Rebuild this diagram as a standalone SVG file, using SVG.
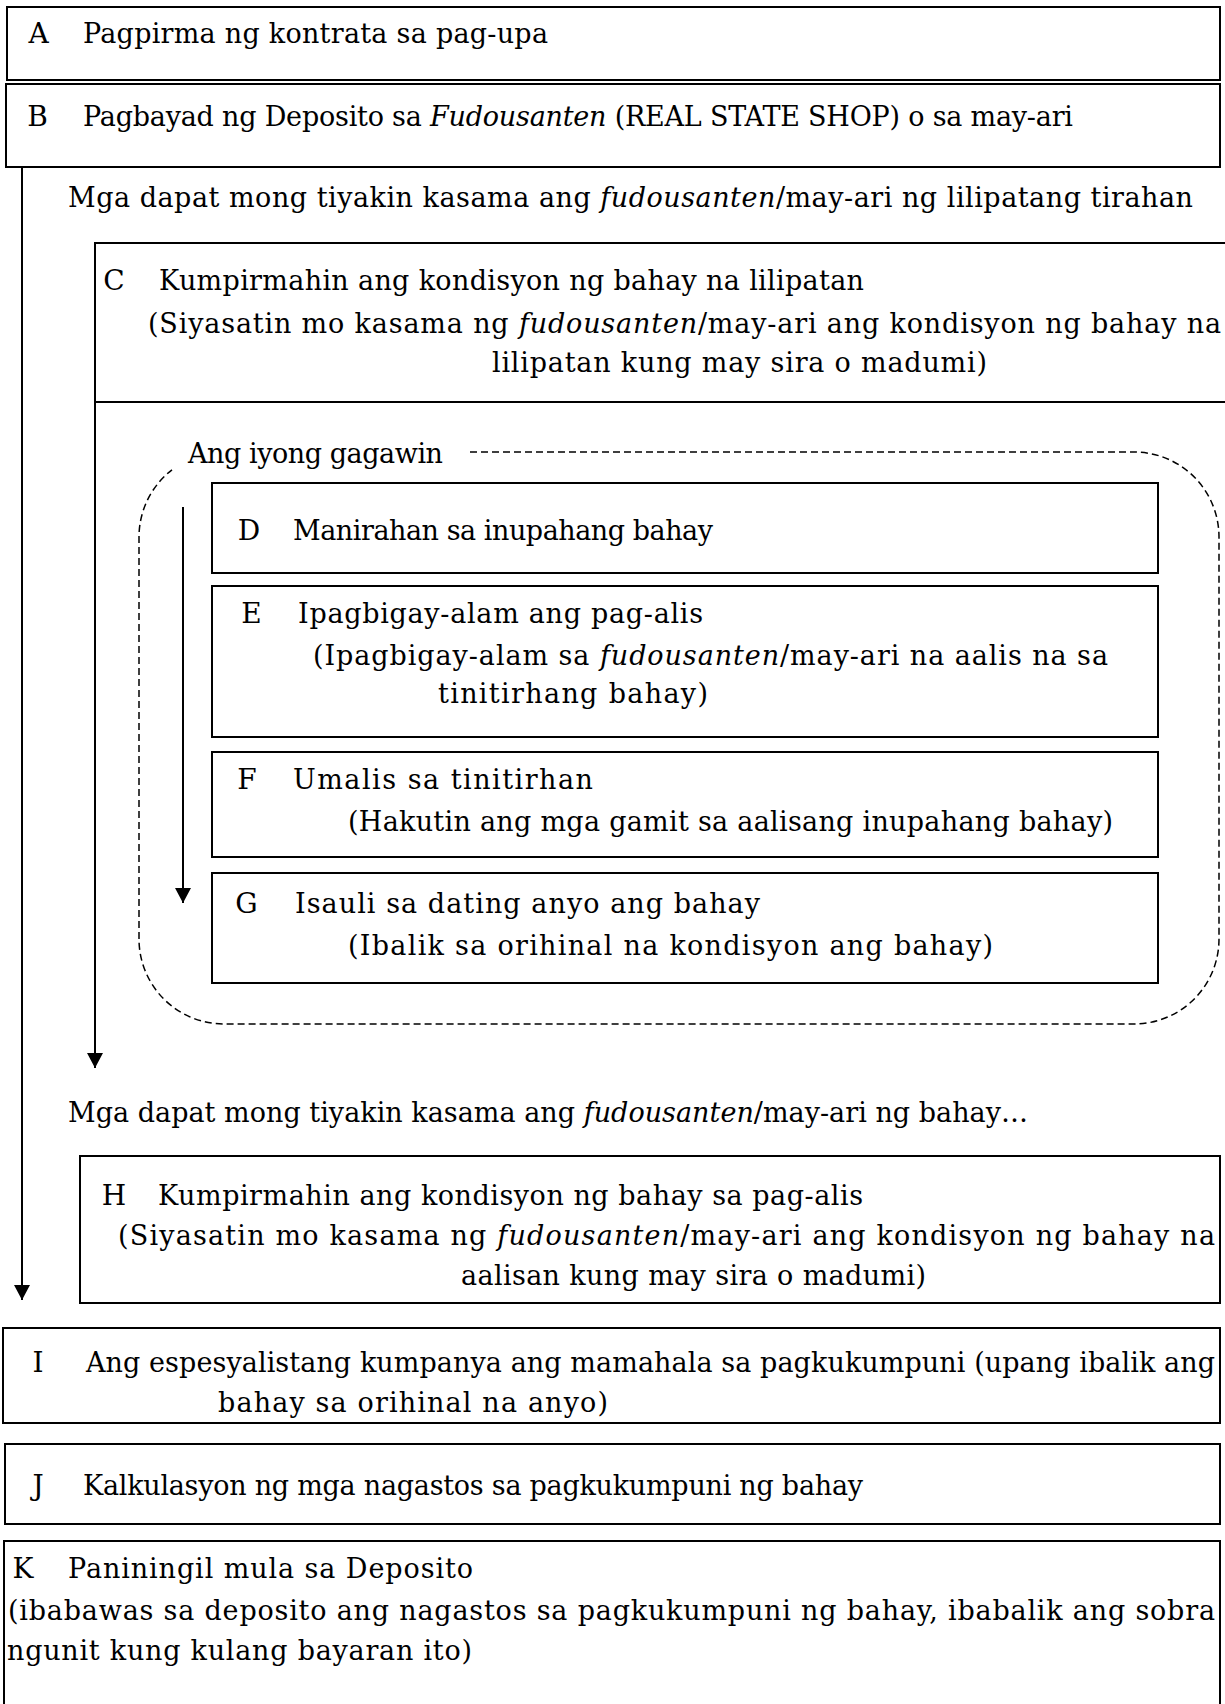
<svg xmlns="http://www.w3.org/2000/svg" width="1225" height="1704" viewBox="0 0 1225 1704">
<style>
.box{fill:#fff;stroke:#000;stroke-width:2}
.t{font-family:"DejaVu Serif","Liberation Serif",serif;font-size:27px;fill:#000}
.l{font-family:"DejaVu Serif","Liberation Serif",serif;font-size:28px;fill:#000;text-anchor:middle}
.it{font-style:italic}
.ar{fill:none;stroke:#000;stroke-width:2;marker-end:url(#ah)}
.dash{fill:none;stroke:#000;stroke-width:1.5;stroke-dasharray:7 4}
</style>
<defs>
<marker id="ah" viewBox="0 0 15 16" refX="15" refY="8" markerWidth="15" markerHeight="16" markerUnits="userSpaceOnUse" orient="auto">
<path d="M0,0 L15,8 L0,16 z" fill="#000"/>
</marker>
</defs>
<rect width="1225" height="1704" fill="#fff"/>

<g id="connectors">
<path class="ar" d="M22,167 V1300"/>
<path class="ar" d="M95,403 V1068"/>
<path class="ar" d="M183,507 V903"/>
</g>

<g id="nodeA">
<rect class="box" x="7" y="7" width="1213" height="73"/>
<text class="l" x="38.5" y="43">A</text>
<text class="t" x="83" y="43" textLength="465" lengthAdjust="spacing">Pagpirma ng kontrata sa pag-upa</text>
</g>

<g id="nodeB">
<rect class="box" x="6" y="84" width="1214" height="83"/>
<text class="l" x="37.5" y="126">B</text>
<text class="t" x="83" y="126" textLength="990" lengthAdjust="spacing">Pagbayad ng Deposito sa <tspan class="it">Fudousanten</tspan> (REAL STATE SHOP) o sa may-ari</text>
</g>

<g id="label1">
<text class="t" x="68" y="207" textLength="1125" lengthAdjust="spacing">Mga dapat mong tiyakin kasama ang <tspan class="it">fudousanten</tspan>/may-ari ng lilipatang tirahan</text>
</g>

<g id="nodeC">
<rect class="box" x="95" y="243" width="1145" height="159"/>
<text class="l" x="114" y="290">C</text>
<text class="t" x="159" y="290" textLength="705" lengthAdjust="spacing">Kumpirmahin ang kondisyon ng bahay na lilipatan</text>
<text class="t" x="148" y="333" textLength="1073" lengthAdjust="spacing">(Siyasatin mo kasama ng <tspan class="it">fudousanten</tspan>/may-ari ang kondisyon ng bahay na</text>
<text class="t" x="492" y="372" textLength="495" lengthAdjust="spacing">lilipatan kung may sira o madumi)</text>
</g>

<g id="group-gagawin">
<path class="dash" d="M470,452 H1134 A85,85 0 0 1 1219,537 V939 A85,85 0 0 1 1134,1024 H224 A85,85 0 0 1 139,939 V537 A85,85 0 0 1 172,469.8"/>
<text class="t" x="188" y="463" textLength="255" lengthAdjust="spacing">Ang iyong gagawin</text>
</g>

<g id="nodeD">
<rect class="box" x="212" y="483" width="946" height="90"/>
<text class="l" x="249" y="540">D</text>
<text class="t" x="293" y="540" textLength="420" lengthAdjust="spacing">Manirahan sa inupahang bahay</text>
</g>

<g id="nodeE">
<rect class="box" x="212" y="586" width="946" height="151"/>
<text class="l" x="251.5" y="623">E</text>
<text class="t" x="298" y="623" textLength="405" lengthAdjust="spacing">Ipagbigay-alam ang pag-alis</text>
<text class="t" x="313" y="665" textLength="795" lengthAdjust="spacing">(Ipagbigay-alam sa <tspan class="it">fudousanten</tspan>/may-ari na aalis na sa</text>
<text class="t" x="438" y="703" textLength="270" lengthAdjust="spacing">tinitirhang bahay)</text>
</g>

<g id="nodeF">
<rect class="box" x="212" y="752" width="946" height="105"/>
<text class="l" x="247" y="789">F</text>
<text class="t" x="293" y="789" textLength="300" lengthAdjust="spacing">Umalis sa tinitirhan</text>
<text class="t" x="348" y="831" textLength="765" lengthAdjust="spacing">(Hakutin ang mga gamit sa aalisang inupahang bahay)</text>
</g>

<g id="nodeG">
<rect class="box" x="212" y="873" width="946" height="110"/>
<text class="l" x="246.5" y="913">G</text>
<text class="t" x="295" y="913" textLength="465" lengthAdjust="spacing">Isauli sa dating anyo ang bahay</text>
<text class="t" x="348" y="955" textLength="645" lengthAdjust="spacing">(Ibalik sa orihinal na kondisyon ang bahay)</text>
</g>

<g id="label2">
<text class="t" x="68" y="1122" textLength="960" lengthAdjust="spacing">Mga dapat mong tiyakin kasama ang <tspan class="it">fudousanten</tspan>/may-ari ng bahay…</text>
</g>

<g id="nodeH">
<rect class="box" x="80" y="1156" width="1140" height="147"/>
<text class="l" x="114" y="1205">H</text>
<text class="t" x="158" y="1205" textLength="705" lengthAdjust="spacing">Kumpirmahin ang kondisyon ng bahay sa pag-alis</text>
<text class="t" x="118" y="1245" textLength="1097" lengthAdjust="spacing">(Siyasatin mo kasama ng <tspan class="it">fudousanten</tspan>/may-ari ang kondisyon ng bahay na</text>
<text class="t" x="461" y="1285" textLength="465" lengthAdjust="spacing">aalisan kung may sira o madumi)</text>
</g>

<g id="nodeI">
<rect class="box" x="3" y="1328" width="1217" height="95"/>
<text class="l" x="38" y="1372">I</text>
<text class="t" x="86" y="1372" textLength="1129" lengthAdjust="spacing">Ang espesyalistang kumpanya ang mamahala sa pagkukumpuni (upang ibalik ang</text>
<text class="t" x="218" y="1412" textLength="390" lengthAdjust="spacing">bahay sa orihinal na anyo)</text>
</g>

<g id="nodeJ">
<rect class="box" x="5" y="1444" width="1215" height="80"/>
<text class="l" x="38" y="1495">J</text>
<text class="t" x="83" y="1495" textLength="780" lengthAdjust="spacing">Kalkulasyon ng mga nagastos sa pagkukumpuni ng bahay</text>
</g>

<g id="nodeK">
<rect class="box" x="4" y="1541" width="1216" height="180"/>
<text class="l" x="23" y="1578">K</text>
<text class="t" x="68" y="1578" textLength="405" lengthAdjust="spacing">Paniningil mula sa Deposito</text>
<text class="t" x="8" y="1620" textLength="1207" lengthAdjust="spacing">(ibabawas sa deposito ang nagastos sa pagkukumpuni ng bahay, ibabalik ang sobra</text>
<text class="t" x="7" y="1660" textLength="465" lengthAdjust="spacing">ngunit kung kulang bayaran ito)</text>
</g>
</svg>
